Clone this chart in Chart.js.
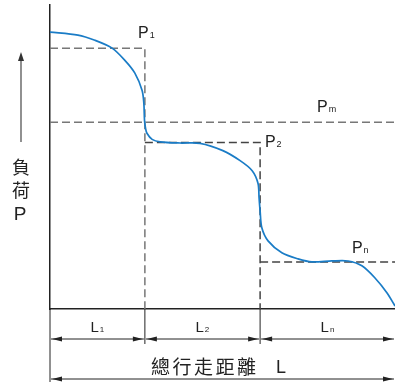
<!DOCTYPE html>
<html>
<head>
<meta charset="utf-8">
<script src="https://cdn.jsdelivr.net/npm/chart.js@4"></script>
<style>
  html, body { margin: 0; padding: 0; background: #fff; }
  #wrap { width: 395px; height: 382px; }
</style>
</head>
<body>
<div id="wrap"><canvas id="chart" width="395" height="382"></canvas></div>
<script>
// load curve (distance 0-100, load 0-100)
let curveX = [0, 8.1, 13.0, 18.0, 21.7, 24.6, 26.7, 27.2, 27.4, 27.7, 28.1, 29.6, 31.9, 37.7, 43.5, 50.1, 55.1, 58.6, 60.3, 60.6, 60.9, 61.4, 63.2, 67.2, 71.9, 75.9, 81.7, 86.4, 90.4, 94.2, 97.7, 100];
let curveY = [91.1, 90.1, 88.4, 85.8, 81.8, 77.6, 71.9, 67.7, 62.0, 59.4, 57.8, 55.8, 55.0, 54.6, 54.5, 52.1, 48.8, 45.5, 41.3, 36.6, 32.3, 26.7, 22.4, 18.5, 16.5, 15.5, 15.8, 15.8, 14.2, 10.2, 5.3, 1.0];

// section boundaries and load levels
let sectionEnds = [27.5, 60.9, 100];
let sectionNames = ["1", "2", "n"];
let loadLevels = [85.8, 54.8, 15.5];
let meanLoad = 61.4;

let curve = curveX.map((x, i) => ({ x: x, y: curveY[i] }));

let stepSets = [];
let start = 0;
for (let i = 0; i < sectionEnds.length; i++) {
    let pts = [{ x: start, y: loadLevels[i] }, { x: sectionEnds[i], y: loadLevels[i] }];
    if (i < sectionEnds.length - 1) pts.push({ x: sectionEnds[i], y: 0 });
    stepSets.push({
        data: pts,
        borderColor: i == 0 ? "#777" : "#444",
        borderWidth: 1.5,
        borderDash: [8, 4],
        pointRadius: 0,
        tension: 0
    });
    start = sectionEnds[i];
}

function subText(ctx, x, y, main, sub, size, subSize) {
    ctx.font = size + "px 'Liberation Sans', Arial, sans-serif";
    ctx.fillText(main, x, y);
    let w = ctx.measureText(main).width;
    ctx.font = subSize + "px 'Liberation Sans', Arial, sans-serif";
    ctx.fillText(sub, x + w + 1, y);
}

function arrowHead(ctx, x, y, dir) {
    // dir: 1 = pointing right, -1 = left, 0 = up
    ctx.beginPath();
    if (dir == 0) {
        ctx.moveTo(x, y); ctx.lineTo(x - 3, y + 9); ctx.lineTo(x + 3, y + 9);
    } else {
        ctx.moveTo(x, y); ctx.lineTo(x - dir * 10, y - 2.5); ctx.lineTo(x - dir * 10, y + 2.5);
    }
    ctx.closePath();
    ctx.fill();
}

function dimLine(ctx, x1, x2, y) {
    ctx.beginPath();
    ctx.moveTo(x1, y); ctx.lineTo(x2, y);
    ctx.stroke();
    arrowHead(ctx, x1 + 1, y, -1);
    arrowHead(ctx, x2 - 1, y, 1);
}

let labelPlugin = {
    id: "labels",
    afterDraw(chart) {
        let ctx = chart.ctx;
        let xs = chart.scales.x, ys = chart.scales.y;
        let area = chart.chartArea;
        ctx.save();
        ctx.fillStyle = "#222";
        ctx.textBaseline = "alphabetic";

        // load labels
        subText(ctx, xs.getPixelForValue(25.5), ys.getPixelForValue(loadLevels[0]) - 10, "P", "1", 16, 9);
        subText(ctx, xs.getPixelForValue(62.3), ys.getPixelForValue(loadLevels[1]) + 5, "P", "2", 16, 9);
        subText(ctx, xs.getPixelForValue(87.5), ys.getPixelForValue(loadLevels[2]) - 9, "P", "n", 16, 9);
        subText(ctx, xs.getPixelForValue(77.4), ys.getPixelForValue(meanLoad) - 10, "P", "m", 16, 9);

        // y axis label with arrow
        ctx.strokeStyle = "#555";
        ctx.fillStyle = "#333";
        ctx.lineWidth = 1.3;
        ctx.beginPath();
        ctx.moveTo(21, 142); ctx.lineTo(21, 58);
        ctx.stroke();
        arrowHead(ctx, 21, 52, 0);
        ctx.fillStyle = "#222";
        ctx.textAlign = "center";
        ctx.font = "18px 'Noto Sans CJK TC', sans-serif";
        ctx.fillText("負", 21, 174);
        ctx.fillText("荷", 21, 197);
        ctx.font = "19px 'Liberation Sans', Arial, sans-serif";
        ctx.fillText("P", 20, 220);

        // dimension lines below the axis
        ctx.strokeStyle = "#222";
        ctx.fillStyle = "#222";
        ctx.lineWidth = 1;
        let bottom = area.bottom;
        ctx.beginPath();
        ctx.moveTo(area.left, bottom); ctx.lineTo(area.left, 382);
        for (let i = 0; i < sectionEnds.length - 1; i++) {
            let px = xs.getPixelForValue(sectionEnds[i]);
            ctx.moveTo(px, bottom); ctx.lineTo(px, 344);
        }
        ctx.stroke();

        ctx.textAlign = "left";
        let s = 0;
        for (let i = 0; i < sectionEnds.length; i++) {
            let a = xs.getPixelForValue(s), b = xs.getPixelForValue(sectionEnds[i]);
            dimLine(ctx, a + 1, b - 1, 339);
            let cx = (a + b) / 2 - 7;
            subText(ctx, cx, 332, "L", sectionNames[i], 15, 8);
            s = sectionEnds[i];
        }
        dimLine(ctx, area.left + 1, area.right - 1, 379);

        ctx.font = "19px 'Noto Sans CJK TC', sans-serif";
        let title = ["總", "行", "走", "距", "離"];
        for (let i = 0; i < title.length; i++) {
            ctx.fillText(title[i], 151 + i * 21.5, 374);
        }
        ctx.font = "18px 'Liberation Sans', Arial, sans-serif";
        ctx.fillText("L", 276, 373);
        ctx.restore();
    }
};

let ctx = document.getElementById("chart");
let chart = new Chart(ctx, {
    type: "line",
    data: {
        datasets: [
            {
                data: curve,
                borderColor: "#1a7cc6",
                borderWidth: 1.7,
                pointRadius: 0,
                tension: 0.3
            },
            {
                data: [{ x: 0, y: meanLoad }, { x: 100, y: meanLoad }],
                borderColor: "#777",
                borderWidth: 1.5,
                borderDash: [8, 4],
                pointRadius: 0
            },
            ...stepSets
        ]
    },
    options: {
        responsive: false,
        animation: false,
        layout: { padding: { left: 42, top: 5, right: 0, bottom: 65 } },
        plugins: { legend: { display: false }, tooltip: { enabled: false } },
        scales: {
            x: {
                type: "linear", min: 0, max: 100,
                grid: { display: false },
                ticks: { display: false },
                border: { display: true, color: "#222", width: 1.5 }
            },
            y: {
                type: "linear", min: 0, max: 100,
                grid: { display: false },
                ticks: { display: false },
                border: { display: true, color: "#222", width: 1.5 }
            }
        }
    },
    plugins: [labelPlugin]
});
</script>
</body>
</html>
